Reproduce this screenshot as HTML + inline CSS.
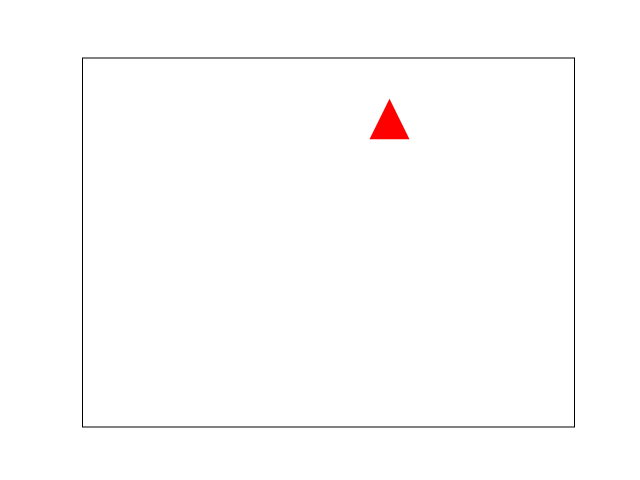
<!DOCTYPE html>
<html><head><meta charset="utf-8"><style>body{margin:0;background:#fff}svg{display:block}</style></head>
<body>
<svg id="chart" width="640" height="480">
<rect x="82.5" y="58" width="492" height="369" fill="#fff" stroke="#000" stroke-width="1"/>
</svg>
<script>
const xValues = [0.625];
const yValues = [0.834];
const L=82, R=574, T=58, B=427;
function sx(v){return L+v*(R-L);}
function sy(v){return B-v*(B-T);}
const svg=document.getElementById('chart');
for(let i=0;i<xValues.length;i++){
  const cx=sx(xValues[i]), cy=sy(yValues[i]);
  const p=document.createElementNS('http://www.w3.org/2000/svg','polygon');
  p.setAttribute('points',`${cx},${cy-20.5} ${cx-20},${cy+20} ${cx+20},${cy+20}`);
  p.setAttribute('fill','#ff0000');
  
  
  svg.appendChild(p);
}
</script>
</body></html>
